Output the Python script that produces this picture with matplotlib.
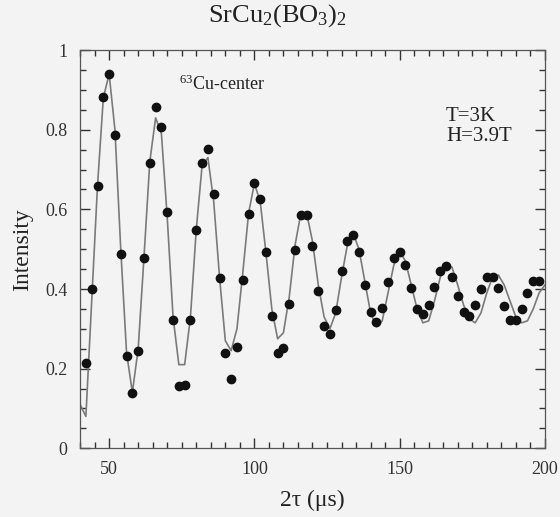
import matplotlib
matplotlib.use("Agg")
import matplotlib.pyplot as plt
from matplotlib.ticker import MultipleLocator

plt.rcParams['font.family'] = ['Liberation Serif', 'DejaVu Serif']
plt.rcParams['mathtext.fontset'] = 'custom'
plt.rcParams['mathtext.rm'] = 'Liberation Serif'
plt.rcParams['mathtext.it'] = 'Liberation Serif:italic'

# measured echo intensity, 2tau in microseconds
tau2 = [42, 44, 46, 48, 50, 52, 54, 56, 58, 60, 62, 64, 66, 68, 70, 72, 74, 76,
        78, 80, 82, 84, 86, 88, 90, 92, 94, 96, 98, 100, 102, 104, 106, 108,
        110, 112, 114, 116, 118, 120, 122, 124, 126, 128, 130, 132, 134, 136,
        138, 140, 142, 144, 146, 148, 150, 152, 154, 156, 158, 160, 162, 164,
        166, 168, 170, 172, 174, 176, 178, 180, 182, 184, 186, 188, 190, 192,
        194, 196, 198]
intensity = [0.214, 0.40, 0.659, 0.882, 0.939, 0.786, 0.487, 0.232, 0.140,
             0.245, 0.477, 0.717, 0.857, 0.807, 0.593, 0.323, 0.156, 0.158,
             0.323, 0.547, 0.717, 0.751, 0.639, 0.428, 0.240, 0.174, 0.254,
             0.423, 0.589, 0.667, 0.626, 0.492, 0.333, 0.240, 0.253, 0.362,
             0.499, 0.585, 0.585, 0.507, 0.394, 0.306, 0.288, 0.347, 0.446,
             0.521, 0.536, 0.492, 0.410, 0.341, 0.317, 0.353, 0.418, 0.479,
             0.492, 0.460, 0.403, 0.351, 0.337, 0.359, 0.404, 0.446, 0.457,
             0.429, 0.382, 0.343, 0.333, 0.359, 0.399, 0.429, 0.431, 0.403,
             0.358, 0.323, 0.323, 0.349, 0.389, 0.419, 0.419]

# fitted curve
fit_x = list(range(40, 202, 2))
fit_y = [0.11, 0.08, 0.37, 0.66, 0.88, 0.94, 0.80, 0.50, 0.24, 0.14,
         0.25, 0.48, 0.72, 0.83, 0.79, 0.58, 0.33, 0.21, 0.21, 0.33,
         0.55, 0.71, 0.73, 0.62, 0.43, 0.27, 0.245, 0.30, 0.44, 0.59,
         0.665, 0.62, 0.49, 0.35, 0.275, 0.29, 0.38, 0.51, 0.59, 0.59,
         0.52, 0.41, 0.33, 0.30, 0.34, 0.43, 0.51, 0.54, 0.50, 0.42,
         0.34, 0.305, 0.32, 0.39, 0.46, 0.495, 0.47, 0.41, 0.35, 0.315,
         0.32, 0.37, 0.43, 0.46, 0.455, 0.41, 0.36, 0.325, 0.315, 0.34,
         0.39, 0.43, 0.435, 0.41, 0.37, 0.33, 0.315, 0.32, 0.35, 0.39,
         0.41]

bg = '#f3f3f3'
fig = plt.figure(figsize=(5.6, 5.17), dpi=100, facecolor=bg)
ax = fig.add_axes([0.143, 0.133, 0.830, 0.770], facecolor=bg)

ax.plot(fit_x, fit_y, color='#7a7a7a', lw=1.2, zorder=2)
ax.plot(tau2, intensity, 'o', color='#111111', ms=6, zorder=3)

ax.set_xlim(40, 200)
ax.set_ylim(0, 1)
ax.set_yticks([0, 0.2, 0.4, 0.6, 0.8, 1.0])
ax.set_yticklabels(['0', '0.2', '0.4', '0.6', '0.8', '1'])
ax.xaxis.set_major_locator(MultipleLocator(50))
ax.xaxis.set_minor_locator(MultipleLocator(5))
ax.yaxis.set_minor_locator(MultipleLocator(0.05))
ax.tick_params(which='both', direction='in', top=True, right=True,
               colors='#333333', width=1.0, labelsize=13)
ax.tick_params(which='major', length=7, pad=9)
ax.tick_params(which='minor', length=4)
for s in ax.spines.values():
    s.set_color('#555555')
    s.set_linewidth(0.9)

ax.set_xlabel('2τ (μs)', fontsize=17, color='#222222', labelpad=9)
ax.set_ylabel('Intensity', fontsize=17, color='#222222', labelpad=9)
fig.text(0.495, 0.97, r'SrCu$_2$(BO$_3$)$_2$', fontsize=19,
         ha='center', va='center', color='#222222')

ax.text(74, 0.915, r'$^{63}$Cu-center', fontsize=13, color='#222222',
        ha='left', va='center')
ax.text(0.787, 0.834, 'T=3K', transform=ax.transAxes, fontsize=15,
        color='#222222', ha='left', va='center')
ax.text(0.787, 0.784, 'H=3.9T', transform=ax.transAxes, fontsize=15,
        color='#222222', ha='left', va='center')

fig.savefig('out.png', dpi=100, facecolor=bg)
